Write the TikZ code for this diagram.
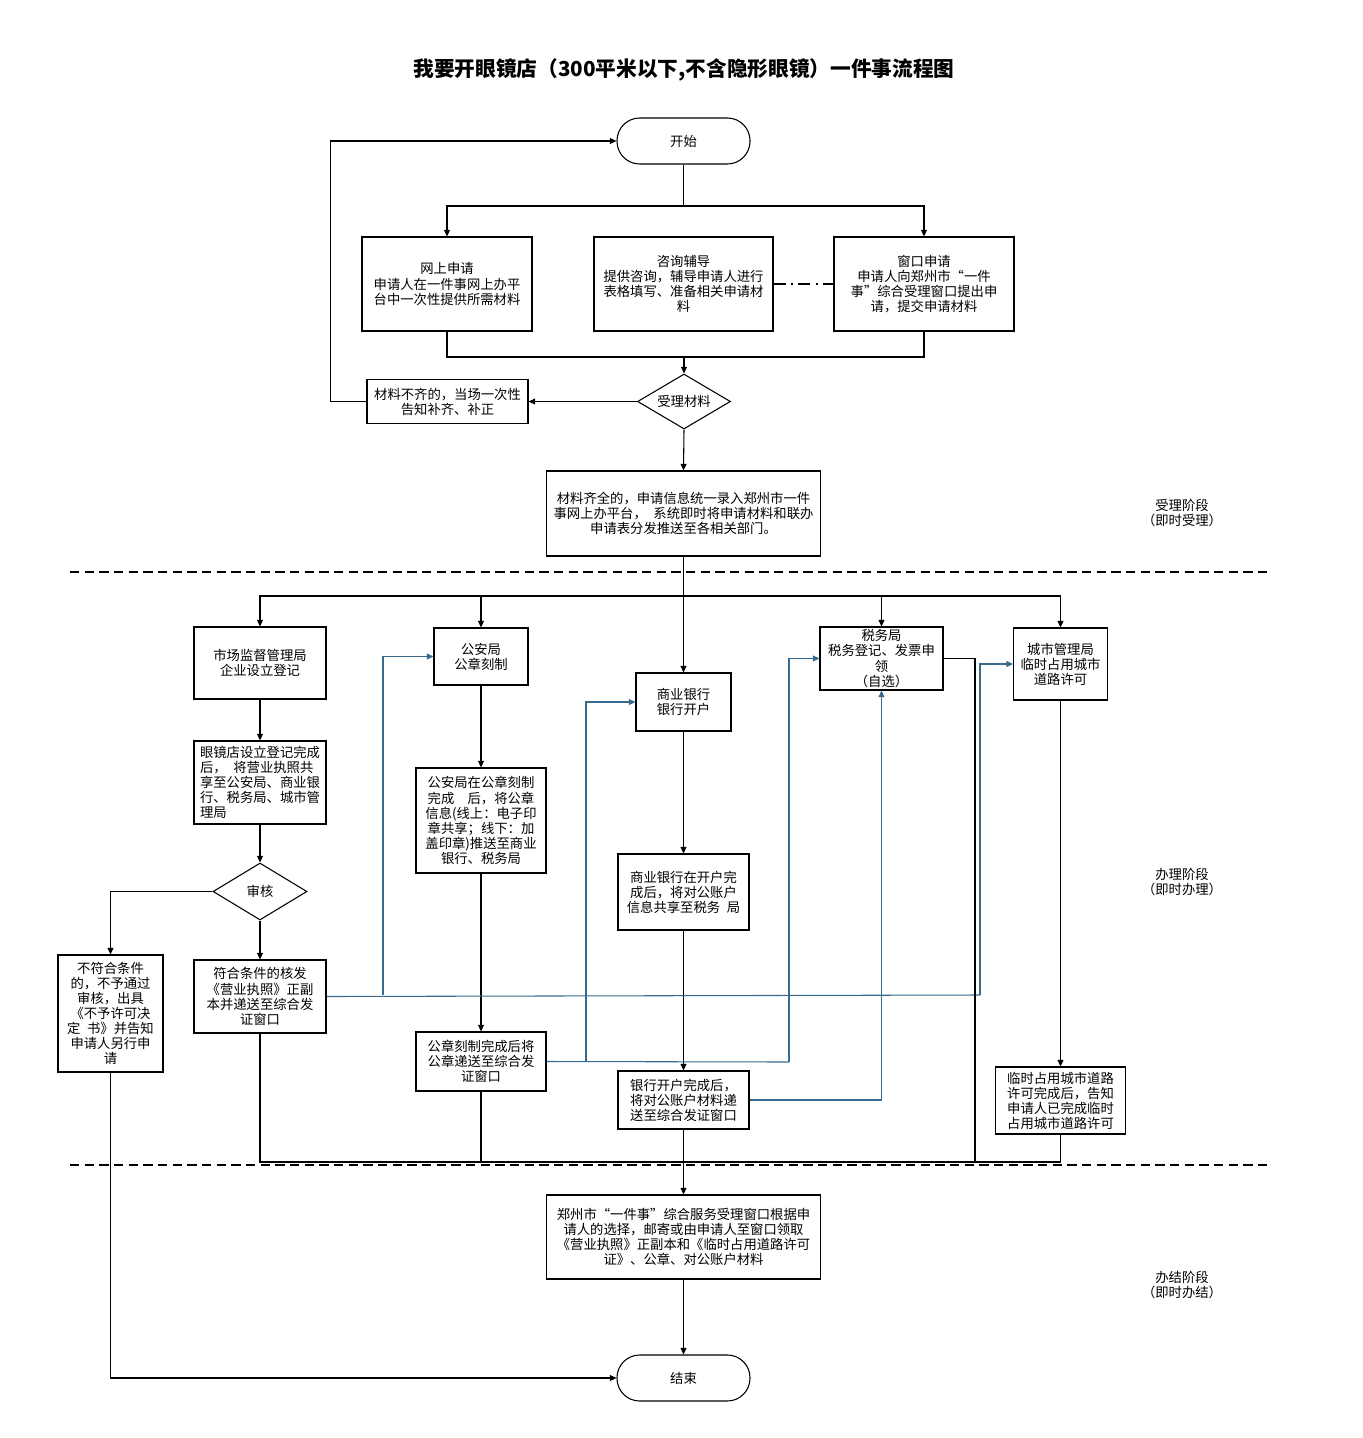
\documentclass[tikz,border=0pt]{standalone}
\usepackage{fontspec}
\setmainfont{Noto Sans CJK SC}
\usetikzlibrary{arrows.meta,shapes.geometric}

\definecolor{linkblue}{RGB}{56,106,142}
\tikzset{
  txt/.style={font=\fontsize{10}{11.3}\selectfont},
  box/.style 2 args={draw, line width=0.8pt, align=center, inner sep=1pt, txt,
    minimum width=#1*0.75pt, minimum height=#2*0.75pt},
  terminal/.style 2 args={box={#1}{#2}, rounded corners=17pt},
  decision/.style 2 args={draw, line width=0.8pt, diamond, aspect=1.7, inner sep=0pt, txt,
    minimum width=#1*0.75pt, minimum height=#2*0.75pt},
  link/.style={line width=0.8pt},
  arr/.style={link, -{Triangle[length=5pt,width=4.5pt]}},
  bluelink/.style={link, draw=linkblue},
  bluearr/.style={arr, draw=linkblue},
  phase/.style={dash pattern=on 7pt off 4pt, line width=0.8pt}
}

\begin{document}
\begin{tikzpicture}[x=0.75pt, y=-0.75pt]
\useasboundingbox (0,0) rectangle (1363,1438);

\node[font=\fontsize{15.5}{18}\selectfont\bfseries] (title) at (684,70)
  {我要开眼镜店（300平米以下,不含隐形眼镜）一件事流程图};

% acceptance stage
\node[terminal={133}{46}] (start) at (683.5,141) {开始};
\node[box={170}{94}] (online) at (447,284)
  {网上申请\\申请人在一件事网上办平\\台中一次性提供所需材料};
\node[box={179}{94}] (consult) at (683.5,284)
  {咨询辅导\\提供咨询，辅导申请人进行\\表格填写、准备相关申请材\\料};
\node[box={180}{94}] (window) at (924,284)
  {窗口申请\\申请人向郑州市“一件\\事”综合受理窗口提出申\\请，提交申请材料};
\node[decision={93}{55}] (accept) at (684,401.5) {受理材料};
\node[box={161}{44}] (incomplete) at (447.5,401.5)
  {材料不齐的，当场一次性\\告知补齐、补正};
\node[box={274}{85}] (complete) at (683.5,513.5)
  {材料齐全的，申请信息统一录入郑州市一件\\事网上办平台，\enspace 系统即时将申请材料和联办\\申请表分发推送至各相关部门。};

% handling stage
\node[box={132}{72}] (market) at (260,663) {市场监督管理局\\企业设立登记};
\node[box={132}{83}, align=left] (store) at (260,782.5)
  {眼镜店设立登记完成\\后，\enspace 将营业执照共\\享至公安局、商业银\\行、税务局、城市管\\理局};
\node[decision={94}{57}] (review) at (260,891.5) {审核};
\node[box={105}{117}] (reject) at (110.5,1013.5)
  {不符合条件\\的，不予通过\\审核，出具\\《不予许可决\\定\enspace 书》并告知\\申请人另行申\\请};
\node[box={132}{73}] (approve) at (260,996.5)
  {符合条件的核发\\《营业执照》正副\\本并递送至综合发\\证窗口};

\node[box={94}{57}] (psb) at (481,656.5) {公安局\\公章刻制};
\node[box={130}{105}] (psbshare) at (481,820.5)
  {公安局在公章刻制\\完成\quad 后，将公章\\信息(线上：电子印\\章共享；线下：加\\盖印章)推送至商业\\银行、税务局};
\node[box={130}{59}] (sealdone) at (481,1061.5)
  {公章刻制完成后将\\公章递送至综合发\\证窗口};

\node[box={95}{58}] (bank) at (683.5,702) {商业银行\\银行开户};
\node[box={131}{76}] (bankshare) at (683.5,892)
  {商业银行在开户完\\成后，将对公账户\\信息共享至税务\enspace 局};
\node[box={131}{58}] (bankdone) at (683.5,1100)
  {银行开户完成后，\\将对公账户材料递\\送至综合发证窗口};

\node[box={123}{63}] (tax) at (881.5,658.5)
  {税务局\\税务登记、发票申\\领\\（自选）};
\node[box={94}{72}] (city) at (1060.5,664) {城市管理局\\临时占用城市\\道路许可};
\node[box={130}{67}] (citydone) at (1060.5,1100.5)
  {临时占用城市道路\\许可完成后，告知\\申请人已完成临时\\占用城市道路许可};

% completion stage
\node[box={274}{84}] (final) at (683.5,1237)
  {郑州市“一件事”综合服务受理窗口根据申\\请人的选择，邮寄或由申请人至窗口领取\\《营业执照》正副本和《临时占用道路许可\\证》、公章、对公账户材料};
\node[terminal={133}{46}] (end) at (683.5,1378) {结束};

% phase labels and separators
\node[txt, align=center] (phaseA) at (1182,513) {受理阶段\\（即时受理）};
\node[txt, align=center] (phaseB) at (1182,882) {办理阶段\\（即时办理）};
\node[txt, align=center] (phaseC) at (1182,1285) {办结阶段\\（即时办结）};
\draw[phase] (70,572) -- (1270,572);
\draw[phase] (70,1165) -- (1270,1165);

% connectors, top part
\draw[link] (start.south) -- (683.5,206) coordinate (splitA);
\draw[arr] (splitA) -| (online.north);
\draw[arr] (splitA) -| (window.north);
\draw[link, dash pattern=on 9pt off 4pt on 1.5pt off 4pt] (consult.east) -- (window.west);
\draw[link] (online.south) |- (684,357) coordinate (mergeA) -| (window.south);
\draw[arr] (mergeA) -- (accept.north);
\draw[arr] (accept.west) -- (incomplete.east);
\draw[arr] (incomplete.west) -- ++(-36,0) |- (start.west);
\draw[arr] (accept.south) -- (complete.north);

% connectors, middle part
\draw[link] (complete.south) -- (683.5,596) coordinate (splitB);
\draw[arr] (splitB) -| (market.north);
\draw[arr] (splitB) -| (psb.north);
\draw[arr] (splitB) -- (bank.north);
\draw[arr] (splitB) -| (tax.north);
\draw[arr] (splitB) -| (city.north);
\draw[line width=1.6pt] (481,596) -- (splitB);
\draw[arr] (market) -- (store);
\draw[arr] (store) -- (review);
\draw[arr] (review.west) -| (reject.north);
\draw[arr] (review) -- (approve);
\draw[arr] (psb) -- (psbshare);
\draw[arr] (psbshare) -- (sealdone);
\draw[arr] (bank) -- (bankshare);
\draw[arr] (bankshare) -- (bankdone);
\draw[arr] (city) -- (citydone);

% shared information, blue
\draw[bluelink] (approve.east) -- (980,995) coordinate (blueA);
\draw[bluearr] (blueA) |- (city.west);
\draw[bluearr] (383,995) |- (psb.west);
\draw[bluelink] (sealdone.east) -- (789,1062) coordinate (blueB);
\draw[bluearr] (blueB) |- (tax.west);
\draw[bluearr] (586,1062) |- (bank.west);
\draw[bluearr] (bankdone.east) -| (tax.south);

% collecting line
\draw[link] (approve.south) |- (1060.5,1162) coordinate (mergeB) -- (citydone.south);
\draw[link] (sealdone.south) -- (481,1162);
\draw[link] (tax.east) -- (975,658.5) -- (975,1162);
\draw[arr] (bankdone.south) -- (final.north);
\draw[arr] (final.south) -- (end.north);
\draw[arr] (reject.south) |- (end.west);
\end{tikzpicture}
\end{document}
